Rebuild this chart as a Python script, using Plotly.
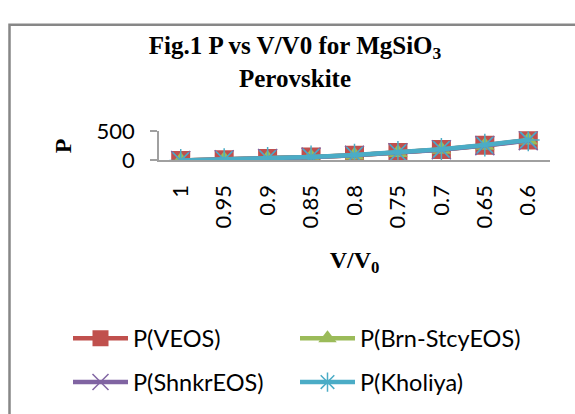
import plotly.graph_objects as go

# ---- data ----
v_ratio = ["1", "0.95", "0.9", "0.85", "0.8", "0.75", "0.7", "0.65", "0.6"]
p_veos = [0, 14, 33, 58, 91, 134, 188, 260, 348]
p_brn_stcy = [0, 15, 34, 58, 90, 132, 186, 257, 343]
p_shnkr = [0, 14, 33, 57, 89, 131, 183, 253, 338]
p_kholiya = [0, 15, 34, 59, 92, 136, 190, 263, 350]
y_ticks = [0, 500]

W, H = 575, 414
GRAY = "#a0a0a0"
SANS = "Lato"
SERIF = "Liberation Serif"

fig = go.Figure()

fig.add_trace(go.Scatter(
    x=v_ratio, y=p_veos, name="P(VEOS)", mode="lines+markers",
    line=dict(color="#C0504D", width=4.5),
    marker=dict(symbol="square", size=19, color="#C0504D"),
    legend="legend"))
fig.add_trace(go.Scatter(
    x=v_ratio, y=p_brn_stcy, name="P(Brn-StcyEOS)", mode="lines+markers",
    line=dict(color="#9BBB59", width=4.5),
    marker=dict(symbol="triangle-up", size=17, color="#9BBB59"),
    legend="legend"))
fig.add_trace(go.Scatter(
    x=v_ratio, y=p_shnkr, name="P(ShnkrEOS)", mode="lines+markers",
    line=dict(color="#8064A2", width=4.5),
    marker=dict(symbol="x-thin-open", size=19, color="#8064A2",
                line=dict(color="#8064A2", width=1.5)),
    legend="legend2"))
fig.add_trace(go.Scatter(
    x=v_ratio, y=p_kholiya, name="P(Kholiya)", mode="lines+markers",
    line=dict(color="#4BACC6", width=4.5),
    marker=dict(symbol="asterisk-open", size=19, color="#4BACC6",
                line=dict(color="#4BACC6", width=1.5)),
    legend="legend2"))

y_bot = 1 - 156.7 / H
y_top = 1 - 125.3 / H

legend_common = dict(
    orientation="h", xanchor="left", yanchor="middle",
    font=dict(family=SANS, size=23.5, color="#000"),
    itemwidth=55,
    entrywidth=157, entrywidthmode="pixels",
    bgcolor="rgba(0,0,0,0)", borderwidth=0,
)

fig.update_layout(
    width=W, height=H,
    margin=dict(l=0, r=0, t=0, b=0),
    paper_bgcolor="white", plot_bgcolor="white",
    title=dict(
        text="Fig.1 P vs V/V0 for MgSiO<sub>3</sub><br>Perovskite",
        font=dict(family=SERIF, size=25, color="#000", weight="bold"),
        x=295 / W, xanchor="center", xref="paper",
        y=1 - 54 / H, yanchor="middle", yref="container",
    ),
    xaxis=dict(
        type="category", domain=[159 / W, 550 / W],
        range=[-0.5, 8.5],
        showline=True, linecolor=GRAY, linewidth=1.5,
        showgrid=False, zeroline=False, ticks="",
        tickangle=-90, ticklabelstandoff=14,
        tickfont=dict(family=SANS, size=22, color="#000"),
        title=dict(text="V/V<sub>0</sub>",
                   font=dict(family=SERIF, size=24, color="#000", weight="bold"),
                   standoff=24),
    ),
    yaxis=dict(
        domain=[y_bot, y_top], range=[0, 500],
        tickvals=y_ticks, ticktext=[str(t) for t in y_ticks],
        showline=True, linecolor=GRAY, linewidth=1.5,
        showgrid=False, zeroline=False,
        ticks="outside", ticklen=7, tickcolor=GRAY, tickwidth=1.5,
        ticklabelstandoff=11,
        tickfont=dict(family=SANS, size=22, color="#000"),
        title=dict(text="P",
                   font=dict(family=SERIF, size=24, color="#000", weight="bold"),
                   standoff=18),
    ),
    legend=dict(x=68 / W, y=1 - 347 / H, **legend_common),
    legend2=dict(x=68 / W, y=1 - 394 / H, **legend_common),
    showlegend=True,
    shapes=[dict(type="rect", xref="paper", yref="paper",
                 x0=9.5 / W, x1=1.3, y0=-0.3, y1=1 - 11.5 / H,
                 line=dict(color="#878787", width=2.5), layer="below")],
)

fig.write_html("out.html")
